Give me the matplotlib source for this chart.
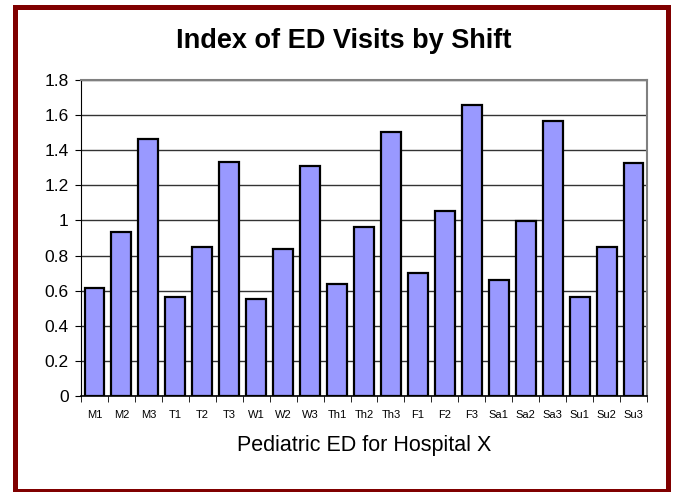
import matplotlib.pyplot as plt
from matplotlib.patches import Rectangle
import numpy as np

plt.rcParams['font.family'] = ['Liberation Sans', 'DejaVu Sans']

shifts = ['M1', 'M2', 'M3', 'T1', 'T2', 'T3', 'W1', 'W2', 'W3',
          'Th1', 'Th2', 'Th3', 'F1', 'F2', 'F3', 'Sa1', 'Sa2', 'Sa3',
          'Su1', 'Su2', 'Su3']
index_values = [0.617, 0.936, 1.464, 0.562, 0.85, 1.333, 0.554, 0.837, 1.31,
                0.638, 0.961, 1.505, 0.699, 1.055, 1.655, 0.66, 0.997, 1.564,
                0.562, 0.847, 1.327]
yticks = [0, 0.2, 0.4, 0.6, 0.8, 1, 1.2, 1.4, 1.6, 1.8]
ytick_labels = ['0', '0.2', '0.4', '0.6', '0.8', '1', '1.2', '1.4', '1.6', '1.8']

W, H = 673, 492
fig = plt.figure(figsize=(W / 100, H / 100), dpi=100)
fig.patch.set_facecolor('white')

ax = fig.add_axes([81 / W, 1 - 396 / H, (647 - 81) / W, (396 - 80) / H])
x = np.arange(len(shifts))
ax.bar(x, index_values, width=0.74, color='#9999FF', edgecolor='black',
       linewidth=1.6, zorder=3)

ax.set_xlim(-0.5, len(shifts) - 0.5)
ax.set_ylim(0, 1.8)
ax.set_yticks(yticks)
ax.set_yticklabels(ytick_labels, fontsize=12.5)
ax.yaxis.grid(True, color='#333333', linewidth=1.0, zorder=0)

ax.set_xticks(x)
ax.set_xticklabels(shifts, fontsize=8)
ax.tick_params(axis='x', which='major', length=0, pad=10)
ax.set_xticks(np.arange(-0.5, len(shifts), 1), minor=True)
ax.tick_params(axis='x', which='minor', length=4, direction='out', color='black')
ax.tick_params(axis='y', length=4, direction='out', color='black', pad=5)

for side in ['top', 'right']:
    ax.spines[side].set_color('#808080')
    ax.spines[side].set_linewidth(1.5)
ax.spines['left'].set_color('black')
ax.spines['bottom'].set_color('black')
ax.spines['bottom'].set_linewidth(1.2)

ax.set_xlabel('Pediatric ED for Hospital X', fontsize=15.5, labelpad=11)

fig.text(344 / W, 1 - 48 / H, 'Index of ED Visits by Shift', ha='center',
         va='baseline', fontsize=19.5, fontweight='bold')

# dark red frame around the whole chart
frame = Rectangle((15 / W, 1 - 490.5 / H), (667.5 - 15) / W, (490.5 - 6.5) / H,
                  transform=fig.transFigure, fill=False,
                  edgecolor='#800000', linewidth=3.6)
fig.patches.append(frame)

fig.savefig('out.png', dpi=100)
